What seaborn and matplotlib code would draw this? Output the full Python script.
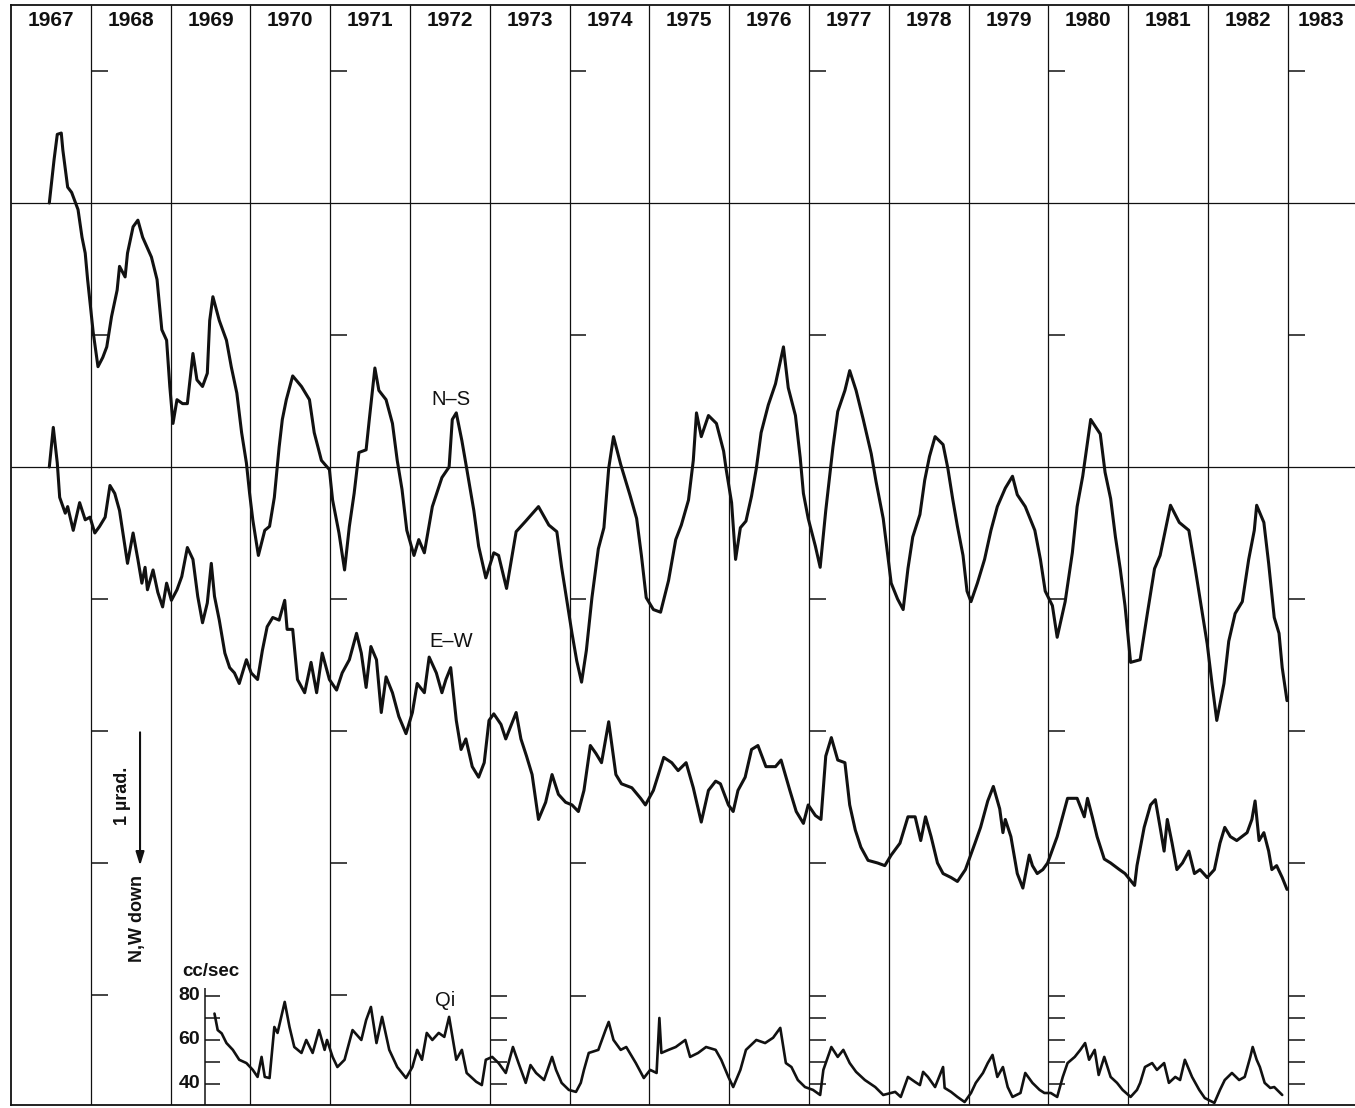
import matplotlib.pyplot as plt
import seaborn as sns
import numpy as np
from matplotlib import font_manager

# tilt records (µrad, relative to each trace's own base line)
ns_year = [
    1967.48, 1967.54, 1967.58, 1967.63, 1967.65, 1967.71, 1967.76, 1967.84, 1967.89, 1967.93, 1967.96,
    1968.03, 1968.09, 1968.15, 1968.20, 1968.26, 1968.33, 1968.36, 1968.43, 1968.46, 1968.53, 1968.59, 1968.65, 1968.76, 1968.83, 1968.89, 1968.95, 1968.99,
    1969.03, 1969.08, 1969.15, 1969.21, 1969.28, 1969.33, 1969.40, 1969.46, 1969.49, 1969.53, 1969.61, 1969.70, 1969.76, 1969.83, 1969.89, 1969.95, 1969.99,
    1970.03, 1970.10, 1970.18, 1970.24, 1970.30, 1970.36, 1970.40, 1970.45, 1970.53, 1970.64, 1970.74, 1970.80, 1970.89, 1970.99,
    1971.03, 1971.11, 1971.18, 1971.24, 1971.30, 1971.36, 1971.45, 1971.49, 1971.56, 1971.61, 1971.70, 1971.78, 1971.84, 1971.90, 1971.96,
    1972.05, 1972.11, 1972.18, 1972.28, 1972.40, 1972.49, 1972.53, 1972.58, 1972.65, 1972.71, 1972.80, 1972.86, 1972.95,
    1973.05, 1973.11, 1973.21, 1973.33, 1973.45, 1973.61, 1973.74, 1973.84, 1973.90, 1973.96,
    1974.03, 1974.09, 1974.15, 1974.21, 1974.28, 1974.36, 1974.43, 1974.49, 1974.55, 1974.64, 1974.76, 1974.84, 1974.90, 1974.96,
    1975.05, 1975.14, 1975.24, 1975.33, 1975.40, 1975.49, 1975.55, 1975.59, 1975.65, 1975.74, 1975.84, 1975.93, 1975.96,
    1976.03, 1976.08, 1976.14, 1976.21, 1976.28, 1976.34, 1976.40, 1976.49, 1976.58, 1976.68, 1976.74, 1976.83, 1976.89, 1976.93, 1976.99,
    1977.08, 1977.14, 1977.21, 1977.30, 1977.36, 1977.45, 1977.51, 1977.59, 1977.68, 1977.78, 1977.84, 1977.93,
    1978.03, 1978.11, 1978.18, 1978.24, 1978.30, 1978.39, 1978.45, 1978.51, 1978.58, 1978.68, 1978.74, 1978.80, 1978.86, 1978.93, 1978.98,
    1979.03, 1979.11, 1979.20, 1979.28, 1979.36, 1979.46, 1979.55, 1979.61, 1979.71, 1979.83, 1979.90, 1979.96,
    1980.05, 1980.11, 1980.21, 1980.30, 1980.36, 1980.43, 1980.53, 1980.65, 1980.71, 1980.78, 1980.84, 1980.90, 1980.96,
    1981.03, 1981.15, 1981.24, 1981.33, 1981.40, 1981.53, 1981.64, 1981.76, 1981.84, 1981.93, 1981.99,
    1982.05, 1982.11, 1982.20, 1982.26, 1982.34, 1982.43, 1982.51, 1982.58, 1982.61, 1982.70, 1982.76, 1982.83, 1982.89, 1982.93, 1982.99,
]
ns_tilt = [
    0.00, 0.33, 0.52, 0.53, 0.40, 0.12, 0.08, -0.05, -0.26, -0.38, -0.58,
    -0.98, -1.24, -1.17, -1.09, -0.86, -0.66, -0.48, -0.56, -0.38, -0.18, -0.13, -0.26, -0.41, -0.58, -0.96, -1.04, -1.39,
    -1.67, -1.49, -1.52, -1.52, -1.14, -1.34, -1.39, -1.29, -0.89, -0.71, -0.89, -1.04, -1.24, -1.44, -1.74, -1.97, -2.20,
    -2.40, -2.67, -2.48, -2.45, -2.23, -1.85, -1.64, -1.49, -1.31, -1.39, -1.49, -1.74, -1.95, -2.02,
    -2.25, -2.50, -2.78, -2.45, -2.20, -1.89, -1.87, -1.64, -1.25, -1.42, -1.49, -1.67, -1.95, -2.17, -2.48,
    -2.67, -2.55, -2.65, -2.30, -2.08, -2.00, -1.64, -1.59, -1.80, -2.01, -2.33, -2.60, -2.84,
    -2.65, -2.67, -2.92, -2.49, -2.41, -2.30, -2.44, -2.49, -2.76, -2.99,
    -3.26, -3.47, -3.63, -3.39, -2.99, -2.62, -2.46, -2.01, -1.77, -1.98, -2.22, -2.39, -2.67, -2.99,
    -3.08, -3.10, -2.86, -2.55, -2.44, -2.25, -1.95, -1.59, -1.77, -1.61, -1.67, -1.88, -2.01,
    -2.27, -2.70, -2.46, -2.41, -2.22, -2.01, -1.74, -1.53, -1.37, -1.09, -1.40, -1.61, -1.93, -2.20, -2.39,
    -2.60, -2.76, -2.33, -1.85, -1.58, -1.42, -1.27, -1.42, -1.64, -1.90, -2.11, -2.39,
    -2.88, -3.00, -3.08, -2.77, -2.53, -2.36, -2.10, -1.92, -1.77, -1.83, -2.01, -2.24, -2.45, -2.67, -2.94,
    -3.02, -2.88, -2.70, -2.48, -2.30, -2.16, -2.07, -2.21, -2.30, -2.48, -2.70, -2.94,
    -3.05, -3.29, -3.02, -2.65, -2.30, -2.07, -1.64, -1.75, -2.04, -2.24, -2.53, -2.77, -3.05,
    -3.48, -3.46, -3.11, -2.77, -2.67, -2.29, -2.42, -2.48, -2.77, -3.11, -3.34,
    -3.64, -3.92, -3.64, -3.32, -3.11, -3.02, -2.70, -2.48, -2.29, -2.42, -2.73, -3.14, -3.26, -3.52, -3.77,
]

ew_year = [
    1967.48, 1967.53, 1967.58, 1967.61, 1967.68, 1967.71, 1967.78, 1967.86, 1967.93, 1967.99,
    1968.05, 1968.11, 1968.18, 1968.24, 1968.30, 1968.36, 1968.43, 1968.46, 1968.53, 1968.59, 1968.64, 1968.68, 1968.71, 1968.78, 1968.84, 1968.90, 1968.95,
    1969.01, 1969.08, 1969.14, 1969.21, 1969.28, 1969.34, 1969.40, 1969.46, 1969.51, 1969.55, 1969.61, 1969.68, 1969.74, 1969.80, 1969.86, 1969.95,
    1970.01, 1970.09, 1970.15, 1970.21, 1970.28, 1970.36, 1970.43, 1970.46, 1970.53, 1970.59, 1970.68, 1970.76, 1970.83, 1970.90, 1970.99,
    1971.08, 1971.15, 1971.24, 1971.33, 1971.39, 1971.45, 1971.51, 1971.58, 1971.64, 1971.70, 1971.78, 1971.86, 1971.95,
    1972.03, 1972.09, 1972.18, 1972.24, 1972.33, 1972.40, 1972.45, 1972.51, 1972.58, 1972.64, 1972.70, 1972.78, 1972.86, 1972.93, 1972.99,
    1973.05, 1973.14, 1973.20, 1973.33, 1973.39, 1973.46, 1973.53, 1973.61, 1973.70, 1973.78, 1973.86, 1973.95,
    1974.03, 1974.11, 1974.18, 1974.26, 1974.33, 1974.40, 1974.49, 1974.58, 1974.65, 1974.78, 1974.89, 1974.95,
    1975.05, 1975.18, 1975.28, 1975.36, 1975.46, 1975.55, 1975.65, 1975.74, 1975.83, 1975.89, 1975.99,
    1976.05, 1976.11, 1976.20, 1976.28, 1976.36, 1976.46, 1976.58, 1976.65, 1976.76, 1976.84, 1976.93, 1976.99,
    1977.08, 1977.15, 1977.21, 1977.28, 1977.36, 1977.45, 1977.51, 1977.58, 1977.65, 1977.74, 1977.86, 1977.95,
    1978.03, 1978.14, 1978.24, 1978.33, 1978.40, 1978.46, 1978.53, 1978.61, 1978.68, 1978.78, 1978.86, 1978.96,
    1979.08, 1979.15, 1979.24, 1979.31, 1979.39, 1979.43, 1979.46, 1979.53, 1979.61, 1979.68, 1979.76, 1979.80, 1979.86, 1979.93, 1979.99,
    1980.11, 1980.24, 1980.36, 1980.45, 1980.49, 1980.55, 1980.61, 1980.70, 1980.78, 1980.89, 1980.96,
    1981.08, 1981.11, 1981.20, 1981.28, 1981.34, 1981.40, 1981.45, 1981.49, 1981.55, 1981.61, 1981.68, 1981.76, 1981.83, 1981.90, 1981.99,
    1982.08, 1982.15, 1982.21, 1982.28, 1982.36, 1982.49, 1982.55, 1982.59, 1982.64, 1982.70, 1982.76, 1982.80, 1982.86, 1982.93, 1982.99,
]
ew_tilt = [
    0.00, 0.30, 0.03, -0.23, -0.35, -0.30, -0.48, -0.27, -0.40, -0.38,
    -0.50, -0.45, -0.38, -0.14, -0.20, -0.33, -0.61, -0.73, -0.50, -0.70, -0.88, -0.76, -0.93, -0.78, -0.95, -1.06, -0.88,
    -1.01, -0.93, -0.83, -0.61, -0.70, -0.98, -1.18, -1.03, -0.73, -0.98, -1.16, -1.41, -1.52, -1.56, -1.64, -1.46,
    -1.56, -1.61, -1.39, -1.21, -1.14, -1.16, -1.01, -1.23, -1.23, -1.61, -1.71, -1.48, -1.71, -1.41, -1.61,
    -1.69, -1.56, -1.46, -1.26, -1.41, -1.67, -1.36, -1.46, -1.86, -1.59, -1.71, -1.89, -2.02,
    -1.86, -1.64, -1.71, -1.44, -1.56, -1.71, -1.61, -1.52, -1.92, -2.14, -2.06, -2.27, -2.35, -2.24, -1.92,
    -1.87, -1.95, -2.06, -1.86, -2.06, -2.19, -2.33, -2.67, -2.54, -2.33, -2.48, -2.54,
    -2.56, -2.61, -2.45, -2.11, -2.17, -2.24, -1.93, -2.33, -2.40, -2.43, -2.51, -2.56,
    -2.45, -2.20, -2.24, -2.30, -2.24, -2.43, -2.69, -2.45, -2.38, -2.40, -2.56,
    -2.61, -2.45, -2.35, -2.14, -2.11, -2.27, -2.27, -2.22, -2.45, -2.61, -2.70, -2.56,
    -2.64, -2.67, -2.19, -2.05, -2.22, -2.24, -2.56, -2.75, -2.88, -2.98, -3.00, -3.02,
    -2.94, -2.85, -2.65, -2.65, -2.83, -2.65, -2.80, -3.00, -3.08, -3.11, -3.14, -3.05,
    -2.85, -2.73, -2.53, -2.42, -2.59, -2.77, -2.67, -2.80, -3.08, -3.19, -2.94, -3.02, -3.08, -3.05, -3.00,
    -2.80, -2.51, -2.51, -2.65, -2.51, -2.65, -2.80, -2.97, -3.00, -3.05, -3.08,
    -3.17, -3.02, -2.73, -2.56, -2.52, -2.73, -2.91, -2.67, -2.85, -3.05, -3.00, -2.91, -3.08, -3.05, -3.11,
    -3.05, -2.85, -2.73, -2.80, -2.83, -2.77, -2.67, -2.53, -2.83, -2.77, -2.91, -3.05, -3.02, -3.11, -3.20,
]

# Qi flow in cc/sec
qi_year = [
    1969.55, 1969.59, 1969.64, 1969.70, 1969.78, 1969.86, 1969.95,
    1970.03, 1970.09, 1970.14, 1970.18, 1970.24, 1970.30, 1970.34, 1970.43, 1970.49, 1970.55, 1970.64, 1970.70, 1970.78, 1970.86, 1970.93, 1970.96,
    1971.03, 1971.09, 1971.18, 1971.28, 1971.39, 1971.45, 1971.51, 1971.58, 1971.65, 1971.74, 1971.84, 1971.95,
    1972.03, 1972.09, 1972.15, 1972.21, 1972.28, 1972.36, 1972.43, 1972.49, 1972.58, 1972.65, 1972.71, 1972.83, 1972.90, 1972.95,
    1973.03, 1973.11, 1973.20, 1973.29, 1973.36, 1973.45, 1973.51, 1973.58, 1973.68, 1973.78, 1973.83, 1973.90, 1973.99,
    1974.08, 1974.14, 1974.18, 1974.24, 1974.36, 1974.45, 1974.49, 1974.55, 1974.64, 1974.71, 1974.83, 1974.93,
    1975.01, 1975.09, 1975.125, 1975.15, 1975.24, 1975.33, 1975.45, 1975.51, 1975.61, 1975.71, 1975.83, 1975.90, 1975.99,
    1976.05, 1976.14, 1976.21, 1976.34, 1976.45, 1976.55, 1976.64, 1976.71, 1976.78, 1976.86, 1976.95,
    1977.05, 1977.14, 1977.18, 1977.28, 1977.36, 1977.43, 1977.51, 1977.59, 1977.70, 1977.83, 1977.93,
    1978.08, 1978.15, 1978.24, 1978.33, 1978.39, 1978.43, 1978.49, 1978.58, 1978.68, 1978.70, 1978.78, 1978.86, 1978.95,
    1979.03, 1979.09, 1979.18, 1979.24, 1979.30, 1979.36, 1979.43, 1979.49, 1979.55, 1979.65, 1979.71, 1979.80, 1979.89, 1979.95,
    1980.03, 1980.11, 1980.18, 1980.24, 1980.33, 1980.40, 1980.46, 1980.51, 1980.58, 1980.63, 1980.70, 1980.78, 1980.86, 1980.93,
    1981.03, 1981.11, 1981.15, 1981.21, 1981.30, 1981.36, 1981.45, 1981.51, 1981.59, 1981.65, 1981.71, 1981.80, 1981.89, 1981.96,
    1982.08, 1982.15, 1982.21, 1982.30, 1982.39, 1982.46, 1982.53, 1982.56, 1982.61, 1982.65, 1982.71, 1982.78, 1982.83, 1982.89, 1982.93,
]
qi_flow = [
    72, 64.5, 63, 58.6, 55.5, 51, 49.5,
    46.4, 43.2, 52.3, 43.2, 42.7, 65.9, 63.2, 77.3, 65.9, 56.8, 54.1, 60, 54.1, 64.5, 55.5, 60,
    52.3, 47.7, 51, 64.5, 60, 69, 75, 58.6, 70.5, 55.5, 47.7, 42.7,
    47.7, 55.5, 51, 63.2, 60, 63.2, 61.4, 70.5, 51, 55.5, 45, 41, 39.5, 51,
    52.3, 49.5, 45, 56.8, 49.5, 40.5, 48.6, 45, 41.8, 52.3, 46.4, 40.5, 37.3,
    36.4, 40.5, 46.4, 54.1, 55.5, 64.5, 68.2, 60, 55.5, 56.8, 49.5, 42.7,
    46.4, 45, 70, 54.1, 55.5, 56.8, 60, 52.3, 54.1, 56.8, 55.5, 51, 43.2,
    38.6, 46.4, 55.5, 60, 58.6, 61, 65.5, 49.5, 47.7, 41.8, 38.6,
    37.3, 35, 46.4, 56.8, 52.3, 55.5, 49.5, 45.5, 41.8, 38.6, 35,
    36.4, 34.1, 43.2, 40.9, 39.5, 45.5, 43.2, 38.6, 47.7, 38.2, 36.4, 34.1, 31.8,
    35.9, 40.5, 45, 49.5, 53.2, 43.2, 47.7, 38.6, 34.1, 35.9, 45, 40.5, 37.3, 35.9,
    35.9, 34.1, 43.2, 49.5, 52.3, 55.5, 58.6, 51, 55.5, 44.1, 52.3, 43.2, 40.5, 37.3,
    34.1, 37.3, 40.5, 47.7, 49.5, 46.4, 49.5, 40.5, 43.2, 41.8, 51, 43.2, 37.3, 33.6,
    31.4, 37.3, 41.8, 45, 41.8, 43.2, 52.3, 56.8, 51, 47.7, 40.5, 38.2, 38.6, 36.4, 35,
]

years = list(range(1967, 1984))
urad_tick_years = [1968, 1971, 1974, 1977, 1980, 1983]
urad_tick_levels = [3, 1, -1, -2, -3]
urad_low_tick_years = [1968, 1971]
qi_tick_years = [1973, 1977, 1980, 1983]
qi_ticks = [80, 70, 60, 50, 40]
qi_labels = [80, 60, 40]

# layout of the sheet (µrad units on the vertical)
NS_OFFSET = 2.0
QI_BASE = -4.674   # where 40 cc/sec sits
QI_SCALE = 1 / 60  # µrad-units per cc/sec
QI_AXIS_X = 1969.43
TICK_LEN = 0.21
INK = "#111111"

sns.set_style("white")
plt.rcParams["font.family"] = ["Liberation Sans", "DejaVu Sans"]
installed = {f.name for f in font_manager.fontManager.ttflist}
year_font = "Liberation Sans Narrow" if "Liberation Sans Narrow" in installed else "Liberation Sans"
year_size = 17 if year_font == "Liberation Sans Narrow" else 15

fig = plt.figure(figsize=(13.55, 11.08), dpi=100)
ax = fig.add_axes([11 / 1355, 3 / 1108, 1344 / 1355, 1100 / 1108])
x0, x1 = 1967, 1967 + 1344 / 79.8
y0, y1 = (467 - 1105) / 132, (467 - 5) / 132
ax.set_xlim(x0, x1)
ax.set_ylim(y0, y1)
ax.set_xticks([])
ax.set_yticks([])
for side in ["left", "top", "bottom"]:
    ax.spines[side].set_color(INK)
    ax.spines[side].set_linewidth(1.3)
ax.spines["right"].set_visible(False)

# year columns and base lines
ax.vlines(years[1:], y0, y1, color=INK, lw=0.9)
ax.hlines([NS_OFFSET, 0], x0, x1, color=INK, lw=0.9)
for yr in years:
    xc = min(yr + 0.5, (yr + x1) / 2)
    ax.text(xc, 3.38, str(yr), ha="center", va="center", fontsize=year_size,
            fontweight="bold", family=[year_font, "DejaVu Sans"], color=INK)

# µrad scale marks
for yr in urad_tick_years:
    ax.hlines(urad_tick_levels, yr, yr + TICK_LEN, color=INK, lw=1.1)
for yr in urad_low_tick_years:
    ax.hlines([-4], yr, yr + TICK_LEN, color=INK, lw=1.1)

# Qi scales
qi_pos = [QI_BASE + (q - 40) * QI_SCALE for q in qi_ticks]
ax.vlines(QI_AXIS_X, y0, QI_BASE + 43 * QI_SCALE + 0.01, color=INK, lw=1.1)
ax.hlines(qi_pos, QI_AXIS_X, QI_AXIS_X + TICK_LEN * 0.9, color=INK, lw=1.1)
for q in qi_labels:
    ax.text(QI_AXIS_X - 0.06, QI_BASE + (q - 40) * QI_SCALE, str(q), ha="right",
            va="center", fontsize=14, fontweight="bold", color=INK)
ax.text(QI_AXIS_X + 0.08, -3.82, "cc/sec", ha="center", va="center", fontsize=13.5,
        fontweight="bold", color=INK)
for yr in qi_tick_years:
    ax.hlines(qi_pos, yr, yr + TICK_LEN, color=INK, lw=1.1)
ax.hlines(qi_pos[0], 1974, 1974 + TICK_LEN, color=INK, lw=1.1)

# traces
sns.lineplot(x=np.array(ns_year), y=np.array(ns_tilt) + NS_OFFSET, ax=ax, color=INK,
             lw=2.2, estimator=None, sort=False)
sns.lineplot(x=np.array(ew_year), y=np.array(ew_tilt), ax=ax, color=INK,
             lw=2.2, estimator=None, sort=False)
sns.lineplot(x=np.array(qi_year), y=QI_BASE + (np.array(qi_flow) - 40) * QI_SCALE, ax=ax,
             color=INK, lw=1.9, estimator=None, sort=False)

ax.text(1972.51, 0.515, "N–S", ha="center", va="center", fontsize=14.5, color=INK)
ax.text(1972.51, -1.32, "E–W", ha="center", va="center", fontsize=14.5, color=INK)
ax.text(1972.44, -4.04, "Qi", ha="center", va="center", fontsize=14.5, color=INK)

# scale arrow
ax.annotate("", xy=(1968.617, -3.02), xytext=(1968.617, -2.01),
            arrowprops=dict(arrowstyle="-|>,head_length=0.8,head_width=0.25",
                            color=INK, lw=1.5, shrinkA=0, shrinkB=0))
ax.text(1968.40, -2.49, "1 µrad.", rotation=90, ha="center", va="center",
        fontsize=13, fontweight="bold", color=INK)
ax.text(1968.58, -3.42, "N,W down", rotation=90, ha="center", va="center",
        fontsize=13, fontweight="bold", color=INK)

fig.savefig("out.png", dpi=100, facecolor="white")
